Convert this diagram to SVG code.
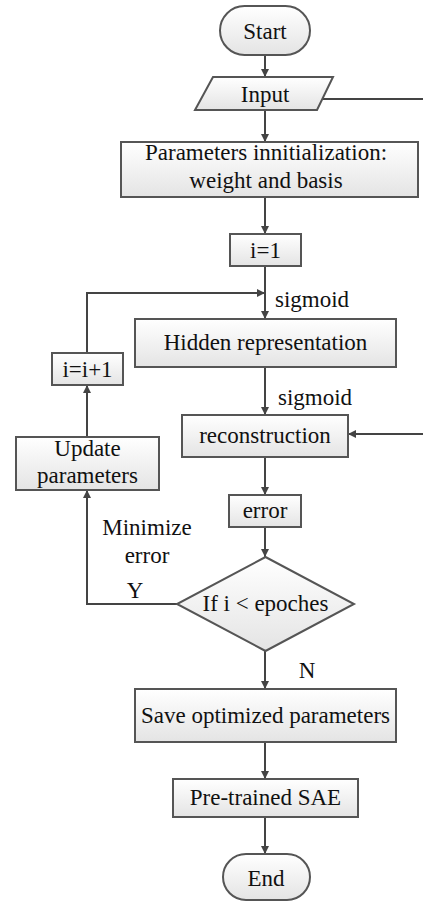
<svg xmlns="http://www.w3.org/2000/svg" width="423" height="902" viewBox="0 0 423 902" font-family="'Liberation Serif', 'Times New Roman', Tinos, 'DejaVu Serif', serif">
<defs>
<linearGradient id="g" x1="0" y1="0" x2="0" y2="1">
<stop offset="0" stop-color="#ffffff"/>
<stop offset="1" stop-color="#e4e4e4"/>
</linearGradient>
<marker id="arr" markerUnits="userSpaceOnUse" markerWidth="9" markerHeight="9" refX="8" refY="4.5" orient="auto">
<path d="M0,0.5 L8,4.5 L0,8.5 z" fill="#444"/>
</marker>
</defs>
<style>
.n{fill:url(#g);stroke:#555;stroke-width:2}
.c{fill:none;stroke:#444;stroke-width:2}
.a{marker-end:url(#arr)}
text{font-family:'Liberation Serif','Times New Roman',Tinos,'DejaVu Serif',serif;font-size:23px;fill:#111}
.m{text-anchor:middle}
</style>
<rect width="423" height="902" fill="#fff"/>
<g id="connectors">
<path class="c a" d="M265,55 V77"/>
<path class="c a" d="M265,110 V142"/>
<path class="c a" d="M265,197 V234"/>
<path class="c a" d="M265,266 V319"/>
<path class="c a" d="M87,353 V293 H265"/>
<path class="c a" d="M265,367 V415"/>
<path class="c" d="M322,99 H423"/>
<path class="c a" d="M423,434 H348"/>
<path class="c a" d="M265,457 V495"/>
<path class="c a" d="M265,527 V557"/>
<path class="c a" d="M265,651 V689"/>
<path class="c a" d="M177,604 H87 V490"/>
<path class="c a" d="M87,437 V385"/>
<path class="c a" d="M265,742 V779"/>
<path class="c a" d="M265,817 V854"/>
<text x="275" y="307">sigmoid</text>
<text x="278" y="405">sigmoid</text>
<text class="m" x="147" y="535">Minimize</text>
<text class="m" x="147" y="563">error</text>
<text class="m" x="135" y="598">Y</text>
<text class="m" x="307" y="678">N</text>
</g>
<g id="start"><rect class="n" x="220" y="6" width="90" height="49" rx="24.5"/><text class="m" x="265" y="39">Start</text></g>
<g id="input"><polygon class="n" points="213,77 333,77 317,110 195,110"/><text class="m" x="265" y="102">Input</text></g>
<g id="params"><rect class="n" x="121" y="142" width="297" height="55"/><text class="m" x="266" y="160">Parameters innitialization:</text><text class="m" x="266" y="188">weight and basis</text></g>
<g id="i1"><rect class="n" x="230" y="234" width="71" height="32"/><text class="m" x="265.5" y="258">i=1</text></g>
<g id="hidden"><rect class="n" x="135" y="319" width="261" height="48"/><text class="m" x="265.5" y="350">Hidden representation</text></g>
<g id="inc"><rect class="n" x="52" y="353" width="71" height="32"/><text class="m" x="87.5" y="377">i=i+1</text></g>
<g id="update"><rect class="n" x="16" y="437" width="143" height="53"/><text class="m" x="87.5" y="456">Update</text><text class="m" x="87.5" y="483">parameters</text></g>
<g id="recon"><rect class="n" x="182" y="415" width="166" height="42"/><text class="m" x="265" y="443">reconstruction</text></g>
<g id="error"><rect class="n" x="229" y="495" width="72" height="32"/><text class="m" x="265" y="518">error</text></g>
<g id="decision"><polygon class="n" points="265.5,557 354,604 265.5,651 177,604"/><text class="m" x="265.5" y="611">If i &lt; epoches</text></g>
<g id="save"><rect class="n" x="135" y="689" width="261" height="53"/><text class="m" x="265.5" y="723">Save optimized parameters</text></g>
<g id="pretrained"><rect class="n" x="173" y="779" width="185" height="38"/><text class="m" x="265.5" y="805">Pre-trained SAE</text></g>
<g id="end"><rect class="n" x="223" y="854" width="87" height="46" rx="23"/><text class="m" x="266" y="886">End</text></g>
</svg>
